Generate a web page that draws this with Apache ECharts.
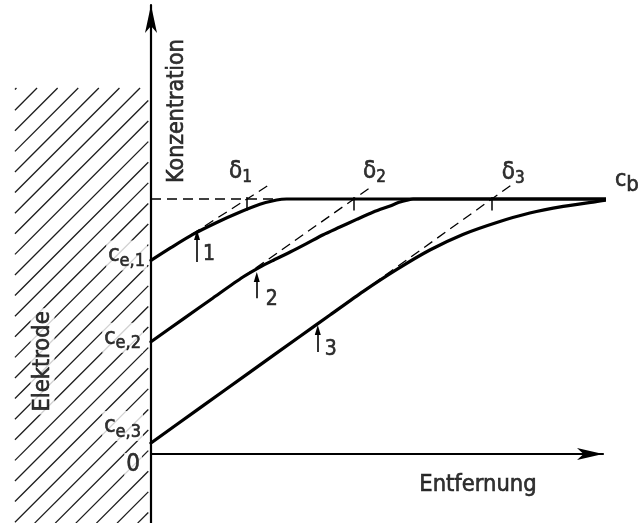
<!DOCTYPE html>
<html>
<head>
<meta charset="utf-8">
<title>Konzentrationsprofile vor der Elektrode</title>
<script src="https://cdn.jsdelivr.net/npm/echarts@6/dist/echarts.min.js"></script>
<style>
  html, body { margin: 0; padding: 0; background: #fff; }
  #chart { width: 641px; height: 523px; }
</style>
</head>
<body>
<div id="chart"></div>
<script>
// Concentration profiles in front of an electrode.
// x: distance from the electrode surface (arbitrary units), y: concentration relative to c_b.

const bulkConc = 1.0;                       // c_b
const surfaceConc = [0.759, 0.440, 0.043];  // c_e,1  c_e,2  c_e,3
const layerThickness = [2.124, 4.49, 7.54]; // δ1  δ2  δ3
const profileEnd = 10.75;                   // where the drawn bulk line stops

const profile1 = [[0, 0.759], [0.45, 0.810], [0.936, 0.862], [1.454, 0.908], [1.896, 0.943],
                  [2.41, 0.979], [2.78, 0.996], [3.0, 1.0], [4.5, 1.0], [10.75, 1.0]];
const profile2 = [[0, 0.440], [0.708, 0.529], [1.372, 0.612], [2.035, 0.694], [2.41, 0.733],
                  [2.71, 0.760], [3.08, 0.792], [3.44, 0.825], [3.81, 0.860], [4.18, 0.890],
                  [4.55, 0.920], [4.92, 0.949], [5.29, 0.973], [5.51, 0.988], [5.66, 0.995],
                  [5.80, 1.0], [7.5, 1.0], [10.75, 1.0]];
const profile3 = [[0, 0.043], [1.084, 0.181], [2.19, 0.321], [3.30, 0.462], [3.96, 0.545],
                  [4.69, 0.637], [5.44, 0.724], [6.17, 0.800], [6.90, 0.861], [7.65, 0.908],
                  [8.38, 0.945], [9.12, 0.971], [9.78, 0.988], [10.20, 0.998], [10.75, 1.0]];

// Tangents at the surface: start at c_e, cross c_b at δ, run a little beyond
const tangentEnds = [[2.59, 1.053], [4.85, 1.045], [8.01, 1.060]];

// Markers where each profile leaves its tangent: [x, tail y, tip y]
const departureMarks = [[1.018, 0.753, 0.859], [2.34, 0.611, 0.694], [3.69, 0.400, 0.486]];

// Electrode body: [x from, y from, x to, y to]
const electrode = [-3.01, -0.271, -0.06, 1.435];

// Texts
const yTitle = 'Konzentration';
const xTitle = 'Entfernung';
const electrodeTitle = 'Elektrode';
const surfaceNames = ['e,1', 'e,2', 'e,3'];
const layerNames = ['1', '2', '3'];
const markNames = ['1', '2', '3'];
const zeroLabel = '0';
const bulkName = 'b';

// ---------------------------------------------------------------------------
const font = "'DejaVu Sans Condensed', 'DejaVu Sans', sans-serif";
const ink = '#000';
const pen = { textBorderColor: ink, textBorderWidth: 0.6 };

const richSub = {
  main: Object.assign({ fontFamily: font, fontSize: 23, color: ink }, pen),
  sub: Object.assign({ fontFamily: font, fontSize: 18, color: ink, padding: [12, 0, 0, 0] }, pen),
  delta: Object.assign({ fontFamily: font, fontSize: 24, color: ink }, pen),
  dsub: Object.assign({ fontFamily: font, fontSize: 17, color: ink, padding: [12, 0, 0, 0] }, pen),
  bsub: Object.assign({ fontFamily: font, fontSize: 22, color: ink, padding: [10, 0, 0, 0] }, pen)
};

function textItem(value, text, opts) {
  return {
    value: value,
    label: Object.assign({
      show: true,
      formatter: function () { return text; },
      position: 'inside',
      align: 'center',
      verticalAlign: 'middle',
      fontFamily: font,
      fontSize: 23,
      fontWeight: 'normal',
      color: ink,
      textBorderColor: ink,
      textBorderWidth: 0.6,
      rich: richSub
    }, opts)
  };
}

// Offsets of rotated labels are given in the label's own (rotated) frame.
const labelItems = [];
labelItems.push(textItem([0, 1.345], yTitle, { offset: [0, 26.5], rotate: 90 }));
labelItems.push(textItem([0, 0], xTitle, { offset: [327, 31], fontSize: 23.5 }));
labelItems.push(textItem([0, 0.363], electrodeTitle, { offset: [0, -108.5], rotate: 90, fontSize: 23.5,
  backgroundColor: '#fff', padding: [0, 3] }));
labelItems.push(textItem([0, 0], zeroLabel, { offset: [-9, 11], align: 'right', fontSize: 24,
  backgroundColor: '#fff', padding: [0, 2] }));
const surfaceOffsets = [[-4, -5], [-8, -4], [-8, -17]];
surfaceConc.forEach(function (c, i) {
  labelItems.push(textItem([0, c], '{main|c}{sub|' + surfaceNames[i] + '}',
    { offset: surfaceOffsets[i], align: 'right', backgroundColor: '#fff', padding: [0, 2] }));
});
const layerOffsets = [[-18, -27], [9, -27], [10, -26]];
layerThickness.forEach(function (d, i) {
  labelItems.push(textItem([d, bulkConc], '{delta|δ}{dsub|' + layerNames[i] + '}',
    { offset: layerOffsets[i], align: 'left' }));
});
const markOffsets = [[6, -7], [9, 1], [7, -2]];
departureMarks.forEach(function (m, i) {
  labelItems.push(textItem([m[0], m[1]], markNames[i],
    { offset: markOffsets[i], align: 'left', fontSize: 21 }));
});
labelItems.push(textItem([profileEnd, bulkConc], '{main|c}{bsub|' + bulkName + '}',
  { offset: [-22, -19], align: 'left' }));

function curve(data) {
  return {
    type: 'line', data: data, showSymbol: false, symbol: 'none',
    smooth: 0.25, clip: false, z: 5, silent: true,
    lineStyle: { color: ink, width: 3.2, cap: 'round', join: 'round' }
  };
}

function dashed(data) {
  return {
    type: 'line', data: data, showSymbol: false, symbol: 'none', clip: false, z: 4, silent: true,
    lineStyle: { color: ink, width: 1.3, type: [10, 6] }
  };
}

const tangentSeries = surfaceConc.map(function (c, i) {
  return dashed([[0, c], [layerThickness[i], bulkConc], tangentEnds[i]]);
});

const tickLines = layerThickness.map(function (d) {
  return [{ coord: [d, bulkConc + 0.008] }, { coord: [d, bulkConc - 0.045] }];
});
const arrowLines = departureMarks.map(function (m) {
  return [{ coord: [m[0], m[1]] }, { coord: [m[0], m[2]] }];
});

const chart = echarts.init(document.getElementById('chart'), null, { renderer: 'canvas' });

chart.setOption({
  animation: false,
  backgroundColor: '#fff',
  grid: { left: 151, right: 38, top: 5, bottom: 0, containLabel: false, outerBoundsMode: 'none' },
  xAxis: {
    type: 'value', min: 0, max: 10,
    axisLine: {
      show: true, onZero: true,
      symbol: ['none', 'arrow'], symbolSize: [9, 26],
      lineStyle: { color: ink, width: 2.2 }
    },
    axisTick: { show: false }, axisLabel: { show: false }, splitLine: { show: false }
  },
  yAxis: {
    type: 'value', min: -0.2706, max: 1.7608,
    axisLine: {
      show: true, onZero: true,
      symbol: ['none', 'arrow'], symbolSize: [9, 28],
      lineStyle: { color: ink, width: 2.2 }
    },
    axisTick: { show: false }, axisLabel: { show: false }, splitLine: { show: false }
  },
  series: [
    {
      // hatched electrode body
      type: 'custom', coordinateSystem: 'cartesian2d', clip: false, silent: true, z: 1,
      data: [electrode],
      encode: { x: [0, 2], y: [1, 3] },
      renderItem: function (params, api) {
        const tl = api.coord([api.value(0), api.value(3)]);
        const br = api.coord([api.value(2), api.value(1)]);
        const left = tl[0], top = tl[1], right = br[0], bottom = br[1];
        const step = 20.6;
        const children = [];
        for (let c = left + top + 1.5; c < right + bottom; c += step) {
          const xa = Math.max(left, c - bottom);
          const xb = Math.min(right, c - top);
          if (xb - xa < 1) continue;
          children.push({
            type: 'line',
            shape: { x1: xa, y1: c - xa, x2: xb, y2: c - xb },
            style: { stroke: '#1c1c1c', lineWidth: 1.3 }
          });
        }
        return { type: 'group', children: children };
      }
    },
    dashed([[0, bulkConc], [profileEnd, bulkConc]]),
    ...tangentSeries,
    curve(profile3),
    curve(profile2),
    Object.assign(curve(profile1), {
      markLine: {
        silent: true, symbol: 'none', label: { show: false },
        lineStyle: { color: ink, width: 1.5, type: 'solid' },
        data: tickLines
      }
    }),
    {
      type: 'line', data: [], silent: true,
      markLine: {
        silent: true, symbol: ['none', 'triangle'], symbolSize: [6, 10],
        label: { show: false }, animation: false,
        itemStyle: { color: ink },
        lineStyle: { color: ink, width: 1.6, type: 'solid' },
        data: arrowLines
      }
    },
    {
      type: 'scatter', data: labelItems, symbolSize: 1, clip: false, silent: true, z: 10,
      itemStyle: { color: 'rgba(0,0,0,0)' }
    }
  ]
});
</script>
</body>
</html>
